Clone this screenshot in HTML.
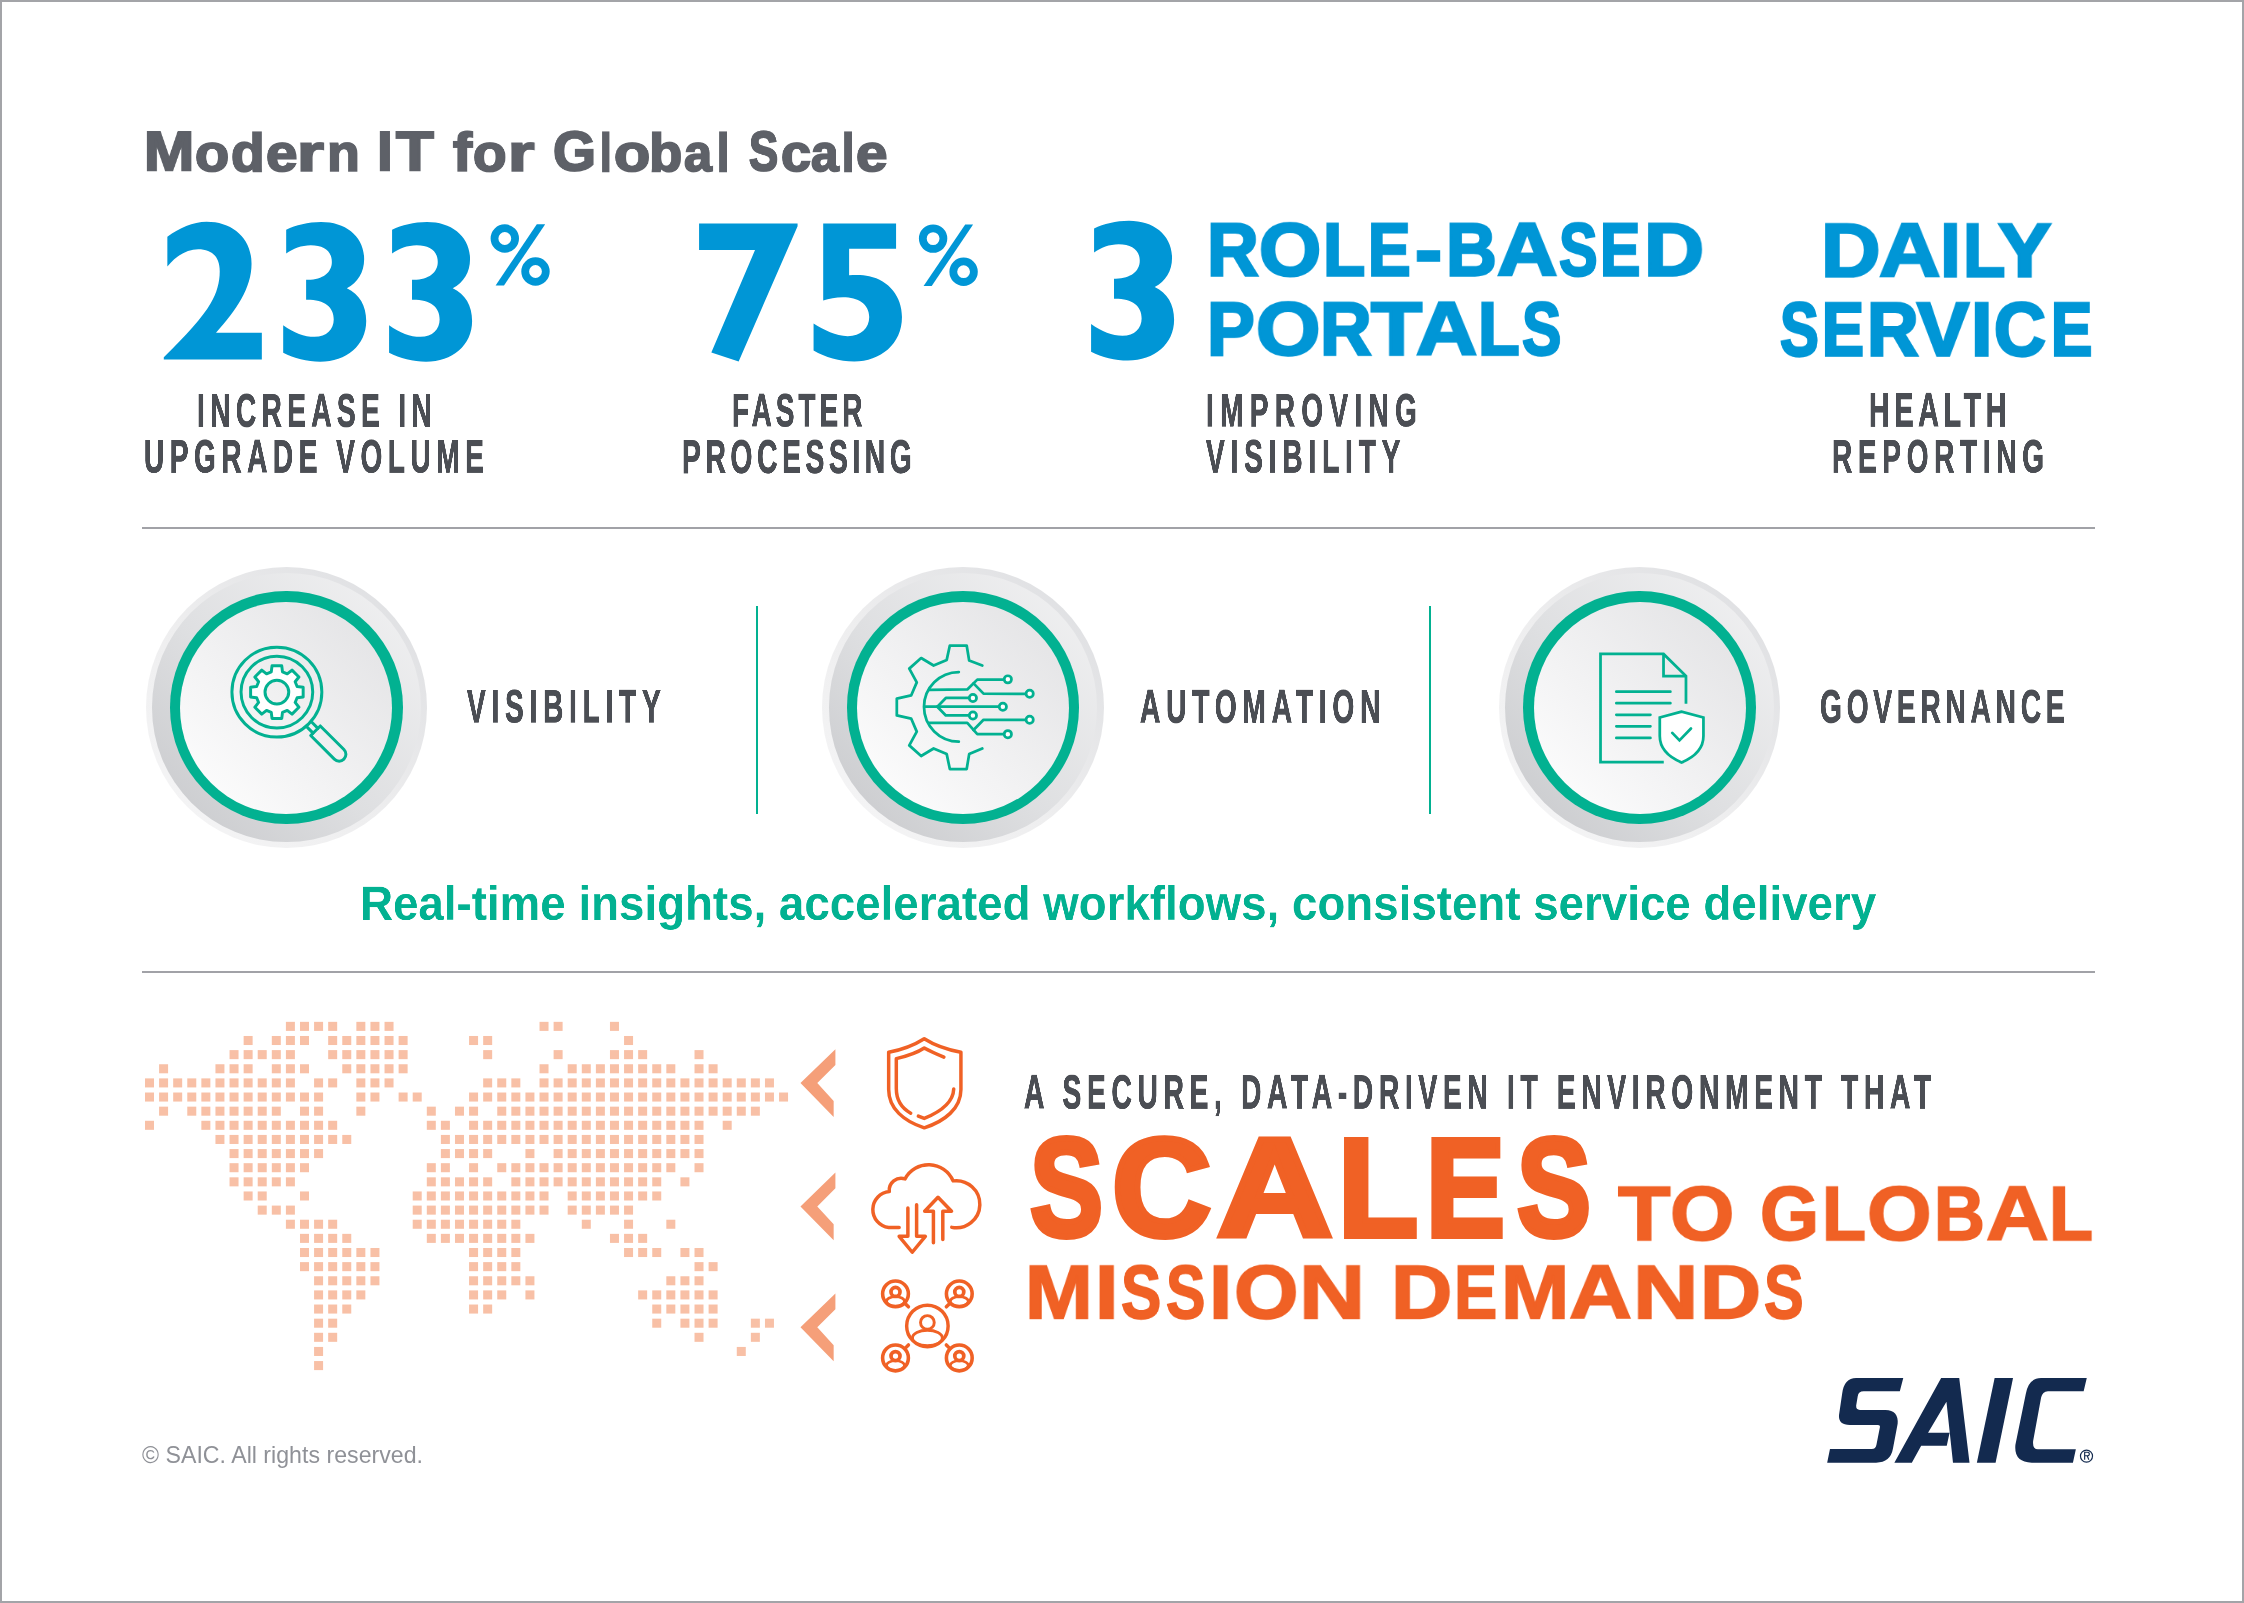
<!DOCTYPE html>
<html><head><meta charset="utf-8"><title>Modern IT for Global Scale</title>
<style>
*{margin:0;padding:0;box-sizing:border-box}
html,body{width:2244px;height:1603px;overflow:hidden;background:#fff}
body{position:relative;font-family:"Liberation Sans",sans-serif}
.frame{position:absolute;left:0;top:0;width:2244px;height:1603px;border:2px solid #a3a4a8;pointer-events:none}
.t{position:absolute;white-space:nowrap;font-size:100px;line-height:1;transform-origin:0 0;will-change:transform;font-family:"Liberation Sans",sans-serif}
.abs{position:absolute;overflow:visible}
.disc{position:absolute;border-radius:50%}
.rule{position:absolute;background:#a1a2a7}
.vdiv{position:absolute;background:#02b191}
</style></head>
<body>
<div class="rule" style="left:142px;top:527px;width:1953px;height:2px"></div>
<div class="rule" style="left:142px;top:971px;width:1953px;height:2px"></div>
<div class="vdiv" style="left:756px;top:606px;width:2px;height:208px"></div>
<div class="vdiv" style="left:1429px;top:606px;width:2px;height:208px"></div>
<div class="disc" style="left:145.65px;top:566.85px;width:281.50px;height:281.50px;background:linear-gradient(45deg,#f6f6f7 0%,#eeeeef 45%,#dcdde0 100%);"></div>
<div class="disc" style="left:152.20px;top:573.40px;width:268.40px;height:268.40px;background:linear-gradient(45deg,#c6c7ca 0%,#dedfe1 45%,#f3f3f4 100%);"></div>
<div class="disc" style="left:170.15px;top:591.35px;width:232.50px;height:232.50px;background:#02b191;"></div>
<div class="disc" style="left:180.40px;top:601.60px;width:212.00px;height:212.00px;background:linear-gradient(45deg,#ffffff 0%,#f3f3f4 40%,#e1e1e3 100%);"></div>
<div class="disc" style="left:822.25px;top:566.85px;width:281.50px;height:281.50px;background:linear-gradient(45deg,#f6f6f7 0%,#eeeeef 45%,#dcdde0 100%);"></div>
<div class="disc" style="left:828.80px;top:573.40px;width:268.40px;height:268.40px;background:linear-gradient(45deg,#c6c7ca 0%,#dedfe1 45%,#f3f3f4 100%);"></div>
<div class="disc" style="left:846.75px;top:591.35px;width:232.50px;height:232.50px;background:#02b191;"></div>
<div class="disc" style="left:857.00px;top:601.60px;width:212.00px;height:212.00px;background:linear-gradient(45deg,#ffffff 0%,#f3f3f4 40%,#e1e1e3 100%);"></div>
<div class="disc" style="left:1498.85px;top:566.85px;width:281.50px;height:281.50px;background:linear-gradient(45deg,#f6f6f7 0%,#eeeeef 45%,#dcdde0 100%);"></div>
<div class="disc" style="left:1505.40px;top:573.40px;width:268.40px;height:268.40px;background:linear-gradient(45deg,#c6c7ca 0%,#dedfe1 45%,#f3f3f4 100%);"></div>
<div class="disc" style="left:1523.35px;top:591.35px;width:232.50px;height:232.50px;background:#02b191;"></div>
<div class="disc" style="left:1533.60px;top:601.60px;width:212.00px;height:212.00px;background:linear-gradient(45deg,#ffffff 0%,#f3f3f4 40%,#e1e1e3 100%);"></div>
<svg class="abs" style="left:200px;top:620px" width="170" height="170" viewBox="0 0 1603 1603">
<g fill="none" stroke="#02b191" stroke-width="28" stroke-linejoin="round" stroke-linecap="round">
<circle cx="725" cy="680" r="424"/>
<circle cx="725" cy="680" r="338"/>
<path d="M672.1,489.2 L679.1,432.2 L770.9,432.2 L777.9,489.2 L822.5,507.7 L867.7,472.3 L932.7,537.3 L897.3,582.5 L915.8,627.1 L972.8,634.1 L972.8,725.9 L915.8,732.9 L897.3,777.5 L932.7,822.7 L867.7,887.7 L822.5,852.3 L777.9,870.8 L770.9,927.8 L679.1,927.8 L672.1,870.8 L627.5,852.3 L582.3,887.7 L517.3,822.7 L552.7,777.5 L534.2,732.9 L477.2,725.9 L477.2,634.1 L534.2,627.1 L552.7,582.5 L517.3,537.3 L582.3,472.3 L627.5,507.7 Z M837,680 A112,112 0 1 0 613,680 A112,112 0 1 0 837,680 Z" fill="#fff" fill-rule="evenodd"/>
<g transform="translate(725,680) rotate(45)">
<path d="M438,-32 L515,-32 M438,32 L515,32"/>
<path d="M515,-64 L830,-64 A64,64 0 0 1 830,64 L515,64 Z"/>
</g>
</g></svg>
<svg class="abs" style="left:860px;top:610px" width="200" height="200" viewBox="0 0 1603 1603">
<g fill="none" stroke="#02b191" stroke-width="22" stroke-linejoin="round" stroke-linecap="round">
<path d="M980,445 L875,405 L855,285 L720,285 L695,400 L590,445 L490,385 L395,470 L455,580 L410,685 L295,710 L295,845 L410,870 L455,975 L395,1085 L490,1170 L590,1110 L695,1155 L720,1275 L855,1275 L875,1155 L980,1110"/>
<path d="M792,497 A279,279 0 0 0 792,1055"/>
<path d="M555,640 L860,637 L940,558 L1156,558"/>
<path d="M910,588 L990,670 L1330,672"/>
<path d="M518,775 L1116,775"/>
<path d="M620,775 L688,705 L876,705"/>
<path d="M620,775 L688,845 L876,845"/>
<path d="M555,905 L860,905 L940,995 L1156,995"/>
<path d="M910,962 L990,880 L1330,880"/>
<circle cx="1185" cy="556" r="29" fill="#fff"/>
<circle cx="1360" cy="672" r="29" fill="#fff"/>
<circle cx="1145" cy="775" r="29" fill="#fff"/>
<circle cx="905" cy="705" r="29" fill="#fff"/>
<circle cx="905" cy="845" r="29" fill="#fff"/>
<circle cx="1185" cy="995" r="29" fill="#fff"/>
<circle cx="1360" cy="880" r="29" fill="#fff"/>
</g></svg>
<svg class="abs" style="left:1540px;top:610px" width="200" height="200" viewBox="0 0 1603 1603">
<g fill="none" stroke="#02b191" stroke-width="22" stroke-linejoin="miter" stroke-linecap="butt">
<path d="M1170,752 L1170,530 L990,352 L485,352 L485,1220 L992,1220"/>
<path d="M990,352 L990,530 L1170,530"/>
<g stroke-linecap="round">
<path d="M612,655 H1045 M612,747 H1045 M612,840 H885 M612,932 H885 M612,1025 H885"/>
</g>
<path d="M1135,815 L960,862 L960,1010 C960,1115 1035,1180 1135,1222 C1235,1180 1310,1115 1310,1010 L1310,862 Z" fill="#fff"/>
<path d="M1060,985 L1118,1045 L1210,950" stroke-linecap="round"/>
</g></svg>
<svg class="abs" style="left:0;top:0" width="2244" height="1603" viewBox="0 0 2244 1603"><g fill="#f8c0a6"><rect x="285.90" y="1021.84" width="9.0" height="9.05"/><rect x="299.99" y="1021.84" width="9.0" height="9.05"/><rect x="314.08" y="1021.84" width="9.0" height="9.05"/><rect x="328.17" y="1021.84" width="9.0" height="9.05"/><rect x="356.35" y="1021.84" width="9.0" height="9.05"/><rect x="370.44" y="1021.84" width="9.0" height="9.05"/><rect x="384.53" y="1021.84" width="9.0" height="9.05"/><rect x="539.52" y="1021.84" width="9.0" height="9.05"/><rect x="553.61" y="1021.84" width="9.0" height="9.05"/><rect x="609.97" y="1021.84" width="9.0" height="9.05"/><rect x="243.63" y="1035.98" width="9.0" height="9.05"/><rect x="271.81" y="1035.98" width="9.0" height="9.05"/><rect x="285.90" y="1035.98" width="9.0" height="9.05"/><rect x="299.99" y="1035.98" width="9.0" height="9.05"/><rect x="328.17" y="1035.98" width="9.0" height="9.05"/><rect x="342.26" y="1035.98" width="9.0" height="9.05"/><rect x="356.35" y="1035.98" width="9.0" height="9.05"/><rect x="370.44" y="1035.98" width="9.0" height="9.05"/><rect x="384.53" y="1035.98" width="9.0" height="9.05"/><rect x="398.62" y="1035.98" width="9.0" height="9.05"/><rect x="469.07" y="1035.98" width="9.0" height="9.05"/><rect x="483.16" y="1035.98" width="9.0" height="9.05"/><rect x="624.06" y="1035.98" width="9.0" height="9.05"/><rect x="229.54" y="1050.11" width="9.0" height="9.05"/><rect x="243.63" y="1050.11" width="9.0" height="9.05"/><rect x="257.72" y="1050.11" width="9.0" height="9.05"/><rect x="271.81" y="1050.11" width="9.0" height="9.05"/><rect x="285.90" y="1050.11" width="9.0" height="9.05"/><rect x="328.17" y="1050.11" width="9.0" height="9.05"/><rect x="342.26" y="1050.11" width="9.0" height="9.05"/><rect x="356.35" y="1050.11" width="9.0" height="9.05"/><rect x="370.44" y="1050.11" width="9.0" height="9.05"/><rect x="384.53" y="1050.11" width="9.0" height="9.05"/><rect x="398.62" y="1050.11" width="9.0" height="9.05"/><rect x="483.16" y="1050.11" width="9.0" height="9.05"/><rect x="553.61" y="1050.11" width="9.0" height="9.05"/><rect x="609.97" y="1050.11" width="9.0" height="9.05"/><rect x="624.06" y="1050.11" width="9.0" height="9.05"/><rect x="638.15" y="1050.11" width="9.0" height="9.05"/><rect x="694.51" y="1050.11" width="9.0" height="9.05"/><rect x="159.09" y="1064.25" width="9.0" height="9.05"/><rect x="215.45" y="1064.25" width="9.0" height="9.05"/><rect x="229.54" y="1064.25" width="9.0" height="9.05"/><rect x="243.63" y="1064.25" width="9.0" height="9.05"/><rect x="271.81" y="1064.25" width="9.0" height="9.05"/><rect x="285.90" y="1064.25" width="9.0" height="9.05"/><rect x="299.99" y="1064.25" width="9.0" height="9.05"/><rect x="342.26" y="1064.25" width="9.0" height="9.05"/><rect x="356.35" y="1064.25" width="9.0" height="9.05"/><rect x="370.44" y="1064.25" width="9.0" height="9.05"/><rect x="384.53" y="1064.25" width="9.0" height="9.05"/><rect x="398.62" y="1064.25" width="9.0" height="9.05"/><rect x="539.52" y="1064.25" width="9.0" height="9.05"/><rect x="567.70" y="1064.25" width="9.0" height="9.05"/><rect x="581.79" y="1064.25" width="9.0" height="9.05"/><rect x="595.88" y="1064.25" width="9.0" height="9.05"/><rect x="609.97" y="1064.25" width="9.0" height="9.05"/><rect x="624.06" y="1064.25" width="9.0" height="9.05"/><rect x="638.15" y="1064.25" width="9.0" height="9.05"/><rect x="652.24" y="1064.25" width="9.0" height="9.05"/><rect x="666.33" y="1064.25" width="9.0" height="9.05"/><rect x="694.51" y="1064.25" width="9.0" height="9.05"/><rect x="708.60" y="1064.25" width="9.0" height="9.05"/><rect x="145.00" y="1078.38" width="9.0" height="9.05"/><rect x="159.09" y="1078.38" width="9.0" height="9.05"/><rect x="173.18" y="1078.38" width="9.0" height="9.05"/><rect x="187.27" y="1078.38" width="9.0" height="9.05"/><rect x="201.36" y="1078.38" width="9.0" height="9.05"/><rect x="215.45" y="1078.38" width="9.0" height="9.05"/><rect x="229.54" y="1078.38" width="9.0" height="9.05"/><rect x="243.63" y="1078.38" width="9.0" height="9.05"/><rect x="257.72" y="1078.38" width="9.0" height="9.05"/><rect x="271.81" y="1078.38" width="9.0" height="9.05"/><rect x="285.90" y="1078.38" width="9.0" height="9.05"/><rect x="314.08" y="1078.38" width="9.0" height="9.05"/><rect x="328.17" y="1078.38" width="9.0" height="9.05"/><rect x="356.35" y="1078.38" width="9.0" height="9.05"/><rect x="370.44" y="1078.38" width="9.0" height="9.05"/><rect x="384.53" y="1078.38" width="9.0" height="9.05"/><rect x="483.16" y="1078.38" width="9.0" height="9.05"/><rect x="497.25" y="1078.38" width="9.0" height="9.05"/><rect x="511.34" y="1078.38" width="9.0" height="9.05"/><rect x="539.52" y="1078.38" width="9.0" height="9.05"/><rect x="553.61" y="1078.38" width="9.0" height="9.05"/><rect x="567.70" y="1078.38" width="9.0" height="9.05"/><rect x="581.79" y="1078.38" width="9.0" height="9.05"/><rect x="595.88" y="1078.38" width="9.0" height="9.05"/><rect x="609.97" y="1078.38" width="9.0" height="9.05"/><rect x="624.06" y="1078.38" width="9.0" height="9.05"/><rect x="638.15" y="1078.38" width="9.0" height="9.05"/><rect x="652.24" y="1078.38" width="9.0" height="9.05"/><rect x="666.33" y="1078.38" width="9.0" height="9.05"/><rect x="680.42" y="1078.38" width="9.0" height="9.05"/><rect x="694.51" y="1078.38" width="9.0" height="9.05"/><rect x="708.60" y="1078.38" width="9.0" height="9.05"/><rect x="722.69" y="1078.38" width="9.0" height="9.05"/><rect x="736.78" y="1078.38" width="9.0" height="9.05"/><rect x="750.87" y="1078.38" width="9.0" height="9.05"/><rect x="764.96" y="1078.38" width="9.0" height="9.05"/><rect x="145.00" y="1092.51" width="9.0" height="9.05"/><rect x="159.09" y="1092.51" width="9.0" height="9.05"/><rect x="173.18" y="1092.51" width="9.0" height="9.05"/><rect x="187.27" y="1092.51" width="9.0" height="9.05"/><rect x="201.36" y="1092.51" width="9.0" height="9.05"/><rect x="215.45" y="1092.51" width="9.0" height="9.05"/><rect x="229.54" y="1092.51" width="9.0" height="9.05"/><rect x="243.63" y="1092.51" width="9.0" height="9.05"/><rect x="257.72" y="1092.51" width="9.0" height="9.05"/><rect x="271.81" y="1092.51" width="9.0" height="9.05"/><rect x="285.90" y="1092.51" width="9.0" height="9.05"/><rect x="299.99" y="1092.51" width="9.0" height="9.05"/><rect x="314.08" y="1092.51" width="9.0" height="9.05"/><rect x="356.35" y="1092.51" width="9.0" height="9.05"/><rect x="370.44" y="1092.51" width="9.0" height="9.05"/><rect x="398.62" y="1092.51" width="9.0" height="9.05"/><rect x="412.71" y="1092.51" width="9.0" height="9.05"/><rect x="469.07" y="1092.51" width="9.0" height="9.05"/><rect x="483.16" y="1092.51" width="9.0" height="9.05"/><rect x="497.25" y="1092.51" width="9.0" height="9.05"/><rect x="511.34" y="1092.51" width="9.0" height="9.05"/><rect x="525.43" y="1092.51" width="9.0" height="9.05"/><rect x="539.52" y="1092.51" width="9.0" height="9.05"/><rect x="553.61" y="1092.51" width="9.0" height="9.05"/><rect x="567.70" y="1092.51" width="9.0" height="9.05"/><rect x="581.79" y="1092.51" width="9.0" height="9.05"/><rect x="595.88" y="1092.51" width="9.0" height="9.05"/><rect x="609.97" y="1092.51" width="9.0" height="9.05"/><rect x="624.06" y="1092.51" width="9.0" height="9.05"/><rect x="638.15" y="1092.51" width="9.0" height="9.05"/><rect x="652.24" y="1092.51" width="9.0" height="9.05"/><rect x="666.33" y="1092.51" width="9.0" height="9.05"/><rect x="680.42" y="1092.51" width="9.0" height="9.05"/><rect x="694.51" y="1092.51" width="9.0" height="9.05"/><rect x="708.60" y="1092.51" width="9.0" height="9.05"/><rect x="722.69" y="1092.51" width="9.0" height="9.05"/><rect x="736.78" y="1092.51" width="9.0" height="9.05"/><rect x="750.87" y="1092.51" width="9.0" height="9.05"/><rect x="764.96" y="1092.51" width="9.0" height="9.05"/><rect x="779.05" y="1092.51" width="9.0" height="9.05"/><rect x="159.09" y="1106.65" width="9.0" height="9.05"/><rect x="187.27" y="1106.65" width="9.0" height="9.05"/><rect x="201.36" y="1106.65" width="9.0" height="9.05"/><rect x="215.45" y="1106.65" width="9.0" height="9.05"/><rect x="229.54" y="1106.65" width="9.0" height="9.05"/><rect x="243.63" y="1106.65" width="9.0" height="9.05"/><rect x="257.72" y="1106.65" width="9.0" height="9.05"/><rect x="271.81" y="1106.65" width="9.0" height="9.05"/><rect x="299.99" y="1106.65" width="9.0" height="9.05"/><rect x="314.08" y="1106.65" width="9.0" height="9.05"/><rect x="356.35" y="1106.65" width="9.0" height="9.05"/><rect x="426.80" y="1106.65" width="9.0" height="9.05"/><rect x="454.98" y="1106.65" width="9.0" height="9.05"/><rect x="469.07" y="1106.65" width="9.0" height="9.05"/><rect x="497.25" y="1106.65" width="9.0" height="9.05"/><rect x="511.34" y="1106.65" width="9.0" height="9.05"/><rect x="525.43" y="1106.65" width="9.0" height="9.05"/><rect x="539.52" y="1106.65" width="9.0" height="9.05"/><rect x="553.61" y="1106.65" width="9.0" height="9.05"/><rect x="567.70" y="1106.65" width="9.0" height="9.05"/><rect x="581.79" y="1106.65" width="9.0" height="9.05"/><rect x="595.88" y="1106.65" width="9.0" height="9.05"/><rect x="609.97" y="1106.65" width="9.0" height="9.05"/><rect x="624.06" y="1106.65" width="9.0" height="9.05"/><rect x="638.15" y="1106.65" width="9.0" height="9.05"/><rect x="652.24" y="1106.65" width="9.0" height="9.05"/><rect x="666.33" y="1106.65" width="9.0" height="9.05"/><rect x="680.42" y="1106.65" width="9.0" height="9.05"/><rect x="694.51" y="1106.65" width="9.0" height="9.05"/><rect x="708.60" y="1106.65" width="9.0" height="9.05"/><rect x="722.69" y="1106.65" width="9.0" height="9.05"/><rect x="736.78" y="1106.65" width="9.0" height="9.05"/><rect x="750.87" y="1106.65" width="9.0" height="9.05"/><rect x="145.00" y="1120.78" width="9.0" height="9.05"/><rect x="201.36" y="1120.78" width="9.0" height="9.05"/><rect x="215.45" y="1120.78" width="9.0" height="9.05"/><rect x="229.54" y="1120.78" width="9.0" height="9.05"/><rect x="243.63" y="1120.78" width="9.0" height="9.05"/><rect x="257.72" y="1120.78" width="9.0" height="9.05"/><rect x="271.81" y="1120.78" width="9.0" height="9.05"/><rect x="285.90" y="1120.78" width="9.0" height="9.05"/><rect x="299.99" y="1120.78" width="9.0" height="9.05"/><rect x="314.08" y="1120.78" width="9.0" height="9.05"/><rect x="328.17" y="1120.78" width="9.0" height="9.05"/><rect x="426.80" y="1120.78" width="9.0" height="9.05"/><rect x="440.89" y="1120.78" width="9.0" height="9.05"/><rect x="469.07" y="1120.78" width="9.0" height="9.05"/><rect x="483.16" y="1120.78" width="9.0" height="9.05"/><rect x="497.25" y="1120.78" width="9.0" height="9.05"/><rect x="511.34" y="1120.78" width="9.0" height="9.05"/><rect x="525.43" y="1120.78" width="9.0" height="9.05"/><rect x="539.52" y="1120.78" width="9.0" height="9.05"/><rect x="553.61" y="1120.78" width="9.0" height="9.05"/><rect x="567.70" y="1120.78" width="9.0" height="9.05"/><rect x="581.79" y="1120.78" width="9.0" height="9.05"/><rect x="595.88" y="1120.78" width="9.0" height="9.05"/><rect x="609.97" y="1120.78" width="9.0" height="9.05"/><rect x="624.06" y="1120.78" width="9.0" height="9.05"/><rect x="638.15" y="1120.78" width="9.0" height="9.05"/><rect x="652.24" y="1120.78" width="9.0" height="9.05"/><rect x="666.33" y="1120.78" width="9.0" height="9.05"/><rect x="680.42" y="1120.78" width="9.0" height="9.05"/><rect x="694.51" y="1120.78" width="9.0" height="9.05"/><rect x="722.69" y="1120.78" width="9.0" height="9.05"/><rect x="215.45" y="1134.92" width="9.0" height="9.05"/><rect x="229.54" y="1134.92" width="9.0" height="9.05"/><rect x="243.63" y="1134.92" width="9.0" height="9.05"/><rect x="257.72" y="1134.92" width="9.0" height="9.05"/><rect x="271.81" y="1134.92" width="9.0" height="9.05"/><rect x="285.90" y="1134.92" width="9.0" height="9.05"/><rect x="299.99" y="1134.92" width="9.0" height="9.05"/><rect x="314.08" y="1134.92" width="9.0" height="9.05"/><rect x="328.17" y="1134.92" width="9.0" height="9.05"/><rect x="342.26" y="1134.92" width="9.0" height="9.05"/><rect x="440.89" y="1134.92" width="9.0" height="9.05"/><rect x="454.98" y="1134.92" width="9.0" height="9.05"/><rect x="469.07" y="1134.92" width="9.0" height="9.05"/><rect x="483.16" y="1134.92" width="9.0" height="9.05"/><rect x="497.25" y="1134.92" width="9.0" height="9.05"/><rect x="511.34" y="1134.92" width="9.0" height="9.05"/><rect x="525.43" y="1134.92" width="9.0" height="9.05"/><rect x="539.52" y="1134.92" width="9.0" height="9.05"/><rect x="553.61" y="1134.92" width="9.0" height="9.05"/><rect x="567.70" y="1134.92" width="9.0" height="9.05"/><rect x="581.79" y="1134.92" width="9.0" height="9.05"/><rect x="595.88" y="1134.92" width="9.0" height="9.05"/><rect x="609.97" y="1134.92" width="9.0" height="9.05"/><rect x="624.06" y="1134.92" width="9.0" height="9.05"/><rect x="638.15" y="1134.92" width="9.0" height="9.05"/><rect x="652.24" y="1134.92" width="9.0" height="9.05"/><rect x="666.33" y="1134.92" width="9.0" height="9.05"/><rect x="680.42" y="1134.92" width="9.0" height="9.05"/><rect x="694.51" y="1134.92" width="9.0" height="9.05"/><rect x="229.54" y="1149.05" width="9.0" height="9.05"/><rect x="243.63" y="1149.05" width="9.0" height="9.05"/><rect x="257.72" y="1149.05" width="9.0" height="9.05"/><rect x="271.81" y="1149.05" width="9.0" height="9.05"/><rect x="285.90" y="1149.05" width="9.0" height="9.05"/><rect x="299.99" y="1149.05" width="9.0" height="9.05"/><rect x="314.08" y="1149.05" width="9.0" height="9.05"/><rect x="440.89" y="1149.05" width="9.0" height="9.05"/><rect x="454.98" y="1149.05" width="9.0" height="9.05"/><rect x="469.07" y="1149.05" width="9.0" height="9.05"/><rect x="483.16" y="1149.05" width="9.0" height="9.05"/><rect x="525.43" y="1149.05" width="9.0" height="9.05"/><rect x="553.61" y="1149.05" width="9.0" height="9.05"/><rect x="567.70" y="1149.05" width="9.0" height="9.05"/><rect x="581.79" y="1149.05" width="9.0" height="9.05"/><rect x="595.88" y="1149.05" width="9.0" height="9.05"/><rect x="609.97" y="1149.05" width="9.0" height="9.05"/><rect x="624.06" y="1149.05" width="9.0" height="9.05"/><rect x="638.15" y="1149.05" width="9.0" height="9.05"/><rect x="652.24" y="1149.05" width="9.0" height="9.05"/><rect x="666.33" y="1149.05" width="9.0" height="9.05"/><rect x="680.42" y="1149.05" width="9.0" height="9.05"/><rect x="694.51" y="1149.05" width="9.0" height="9.05"/><rect x="229.54" y="1163.18" width="9.0" height="9.05"/><rect x="243.63" y="1163.18" width="9.0" height="9.05"/><rect x="257.72" y="1163.18" width="9.0" height="9.05"/><rect x="271.81" y="1163.18" width="9.0" height="9.05"/><rect x="285.90" y="1163.18" width="9.0" height="9.05"/><rect x="299.99" y="1163.18" width="9.0" height="9.05"/><rect x="426.80" y="1163.18" width="9.0" height="9.05"/><rect x="440.89" y="1163.18" width="9.0" height="9.05"/><rect x="469.07" y="1163.18" width="9.0" height="9.05"/><rect x="497.25" y="1163.18" width="9.0" height="9.05"/><rect x="511.34" y="1163.18" width="9.0" height="9.05"/><rect x="525.43" y="1163.18" width="9.0" height="9.05"/><rect x="539.52" y="1163.18" width="9.0" height="9.05"/><rect x="553.61" y="1163.18" width="9.0" height="9.05"/><rect x="567.70" y="1163.18" width="9.0" height="9.05"/><rect x="581.79" y="1163.18" width="9.0" height="9.05"/><rect x="595.88" y="1163.18" width="9.0" height="9.05"/><rect x="609.97" y="1163.18" width="9.0" height="9.05"/><rect x="624.06" y="1163.18" width="9.0" height="9.05"/><rect x="638.15" y="1163.18" width="9.0" height="9.05"/><rect x="652.24" y="1163.18" width="9.0" height="9.05"/><rect x="666.33" y="1163.18" width="9.0" height="9.05"/><rect x="694.51" y="1163.18" width="9.0" height="9.05"/><rect x="229.54" y="1177.32" width="9.0" height="9.05"/><rect x="243.63" y="1177.32" width="9.0" height="9.05"/><rect x="257.72" y="1177.32" width="9.0" height="9.05"/><rect x="271.81" y="1177.32" width="9.0" height="9.05"/><rect x="285.90" y="1177.32" width="9.0" height="9.05"/><rect x="426.80" y="1177.32" width="9.0" height="9.05"/><rect x="440.89" y="1177.32" width="9.0" height="9.05"/><rect x="454.98" y="1177.32" width="9.0" height="9.05"/><rect x="469.07" y="1177.32" width="9.0" height="9.05"/><rect x="483.16" y="1177.32" width="9.0" height="9.05"/><rect x="511.34" y="1177.32" width="9.0" height="9.05"/><rect x="525.43" y="1177.32" width="9.0" height="9.05"/><rect x="539.52" y="1177.32" width="9.0" height="9.05"/><rect x="553.61" y="1177.32" width="9.0" height="9.05"/><rect x="567.70" y="1177.32" width="9.0" height="9.05"/><rect x="581.79" y="1177.32" width="9.0" height="9.05"/><rect x="595.88" y="1177.32" width="9.0" height="9.05"/><rect x="609.97" y="1177.32" width="9.0" height="9.05"/><rect x="624.06" y="1177.32" width="9.0" height="9.05"/><rect x="638.15" y="1177.32" width="9.0" height="9.05"/><rect x="652.24" y="1177.32" width="9.0" height="9.05"/><rect x="680.42" y="1177.32" width="9.0" height="9.05"/><rect x="243.63" y="1191.45" width="9.0" height="9.05"/><rect x="257.72" y="1191.45" width="9.0" height="9.05"/><rect x="299.99" y="1191.45" width="9.0" height="9.05"/><rect x="412.71" y="1191.45" width="9.0" height="9.05"/><rect x="426.80" y="1191.45" width="9.0" height="9.05"/><rect x="440.89" y="1191.45" width="9.0" height="9.05"/><rect x="454.98" y="1191.45" width="9.0" height="9.05"/><rect x="469.07" y="1191.45" width="9.0" height="9.05"/><rect x="483.16" y="1191.45" width="9.0" height="9.05"/><rect x="497.25" y="1191.45" width="9.0" height="9.05"/><rect x="511.34" y="1191.45" width="9.0" height="9.05"/><rect x="525.43" y="1191.45" width="9.0" height="9.05"/><rect x="539.52" y="1191.45" width="9.0" height="9.05"/><rect x="567.70" y="1191.45" width="9.0" height="9.05"/><rect x="581.79" y="1191.45" width="9.0" height="9.05"/><rect x="595.88" y="1191.45" width="9.0" height="9.05"/><rect x="609.97" y="1191.45" width="9.0" height="9.05"/><rect x="624.06" y="1191.45" width="9.0" height="9.05"/><rect x="638.15" y="1191.45" width="9.0" height="9.05"/><rect x="652.24" y="1191.45" width="9.0" height="9.05"/><rect x="257.72" y="1205.59" width="9.0" height="9.05"/><rect x="271.81" y="1205.59" width="9.0" height="9.05"/><rect x="285.90" y="1205.59" width="9.0" height="9.05"/><rect x="412.71" y="1205.59" width="9.0" height="9.05"/><rect x="426.80" y="1205.59" width="9.0" height="9.05"/><rect x="440.89" y="1205.59" width="9.0" height="9.05"/><rect x="454.98" y="1205.59" width="9.0" height="9.05"/><rect x="469.07" y="1205.59" width="9.0" height="9.05"/><rect x="483.16" y="1205.59" width="9.0" height="9.05"/><rect x="497.25" y="1205.59" width="9.0" height="9.05"/><rect x="511.34" y="1205.59" width="9.0" height="9.05"/><rect x="525.43" y="1205.59" width="9.0" height="9.05"/><rect x="539.52" y="1205.59" width="9.0" height="9.05"/><rect x="567.70" y="1205.59" width="9.0" height="9.05"/><rect x="581.79" y="1205.59" width="9.0" height="9.05"/><rect x="595.88" y="1205.59" width="9.0" height="9.05"/><rect x="609.97" y="1205.59" width="9.0" height="9.05"/><rect x="624.06" y="1205.59" width="9.0" height="9.05"/><rect x="285.90" y="1219.72" width="9.0" height="9.05"/><rect x="299.99" y="1219.72" width="9.0" height="9.05"/><rect x="314.08" y="1219.72" width="9.0" height="9.05"/><rect x="328.17" y="1219.72" width="9.0" height="9.05"/><rect x="412.71" y="1219.72" width="9.0" height="9.05"/><rect x="426.80" y="1219.72" width="9.0" height="9.05"/><rect x="440.89" y="1219.72" width="9.0" height="9.05"/><rect x="454.98" y="1219.72" width="9.0" height="9.05"/><rect x="469.07" y="1219.72" width="9.0" height="9.05"/><rect x="483.16" y="1219.72" width="9.0" height="9.05"/><rect x="497.25" y="1219.72" width="9.0" height="9.05"/><rect x="511.34" y="1219.72" width="9.0" height="9.05"/><rect x="581.79" y="1219.72" width="9.0" height="9.05"/><rect x="624.06" y="1219.72" width="9.0" height="9.05"/><rect x="666.33" y="1219.72" width="9.0" height="9.05"/><rect x="299.99" y="1233.85" width="9.0" height="9.05"/><rect x="314.08" y="1233.85" width="9.0" height="9.05"/><rect x="328.17" y="1233.85" width="9.0" height="9.05"/><rect x="342.26" y="1233.85" width="9.0" height="9.05"/><rect x="426.80" y="1233.85" width="9.0" height="9.05"/><rect x="440.89" y="1233.85" width="9.0" height="9.05"/><rect x="454.98" y="1233.85" width="9.0" height="9.05"/><rect x="469.07" y="1233.85" width="9.0" height="9.05"/><rect x="483.16" y="1233.85" width="9.0" height="9.05"/><rect x="497.25" y="1233.85" width="9.0" height="9.05"/><rect x="511.34" y="1233.85" width="9.0" height="9.05"/><rect x="525.43" y="1233.85" width="9.0" height="9.05"/><rect x="609.97" y="1233.85" width="9.0" height="9.05"/><rect x="624.06" y="1233.85" width="9.0" height="9.05"/><rect x="638.15" y="1233.85" width="9.0" height="9.05"/><rect x="299.99" y="1247.99" width="9.0" height="9.05"/><rect x="314.08" y="1247.99" width="9.0" height="9.05"/><rect x="328.17" y="1247.99" width="9.0" height="9.05"/><rect x="342.26" y="1247.99" width="9.0" height="9.05"/><rect x="356.35" y="1247.99" width="9.0" height="9.05"/><rect x="370.44" y="1247.99" width="9.0" height="9.05"/><rect x="469.07" y="1247.99" width="9.0" height="9.05"/><rect x="483.16" y="1247.99" width="9.0" height="9.05"/><rect x="497.25" y="1247.99" width="9.0" height="9.05"/><rect x="511.34" y="1247.99" width="9.0" height="9.05"/><rect x="624.06" y="1247.99" width="9.0" height="9.05"/><rect x="638.15" y="1247.99" width="9.0" height="9.05"/><rect x="652.24" y="1247.99" width="9.0" height="9.05"/><rect x="680.42" y="1247.99" width="9.0" height="9.05"/><rect x="694.51" y="1247.99" width="9.0" height="9.05"/><rect x="299.99" y="1262.12" width="9.0" height="9.05"/><rect x="314.08" y="1262.12" width="9.0" height="9.05"/><rect x="328.17" y="1262.12" width="9.0" height="9.05"/><rect x="342.26" y="1262.12" width="9.0" height="9.05"/><rect x="356.35" y="1262.12" width="9.0" height="9.05"/><rect x="370.44" y="1262.12" width="9.0" height="9.05"/><rect x="469.07" y="1262.12" width="9.0" height="9.05"/><rect x="483.16" y="1262.12" width="9.0" height="9.05"/><rect x="497.25" y="1262.12" width="9.0" height="9.05"/><rect x="511.34" y="1262.12" width="9.0" height="9.05"/><rect x="694.51" y="1262.12" width="9.0" height="9.05"/><rect x="708.60" y="1262.12" width="9.0" height="9.05"/><rect x="314.08" y="1276.26" width="9.0" height="9.05"/><rect x="328.17" y="1276.26" width="9.0" height="9.05"/><rect x="342.26" y="1276.26" width="9.0" height="9.05"/><rect x="356.35" y="1276.26" width="9.0" height="9.05"/><rect x="370.44" y="1276.26" width="9.0" height="9.05"/><rect x="469.07" y="1276.26" width="9.0" height="9.05"/><rect x="483.16" y="1276.26" width="9.0" height="9.05"/><rect x="497.25" y="1276.26" width="9.0" height="9.05"/><rect x="511.34" y="1276.26" width="9.0" height="9.05"/><rect x="525.43" y="1276.26" width="9.0" height="9.05"/><rect x="666.33" y="1276.26" width="9.0" height="9.05"/><rect x="680.42" y="1276.26" width="9.0" height="9.05"/><rect x="694.51" y="1276.26" width="9.0" height="9.05"/><rect x="314.08" y="1290.39" width="9.0" height="9.05"/><rect x="328.17" y="1290.39" width="9.0" height="9.05"/><rect x="342.26" y="1290.39" width="9.0" height="9.05"/><rect x="356.35" y="1290.39" width="9.0" height="9.05"/><rect x="469.07" y="1290.39" width="9.0" height="9.05"/><rect x="483.16" y="1290.39" width="9.0" height="9.05"/><rect x="497.25" y="1290.39" width="9.0" height="9.05"/><rect x="525.43" y="1290.39" width="9.0" height="9.05"/><rect x="638.15" y="1290.39" width="9.0" height="9.05"/><rect x="652.24" y="1290.39" width="9.0" height="9.05"/><rect x="666.33" y="1290.39" width="9.0" height="9.05"/><rect x="680.42" y="1290.39" width="9.0" height="9.05"/><rect x="694.51" y="1290.39" width="9.0" height="9.05"/><rect x="708.60" y="1290.39" width="9.0" height="9.05"/><rect x="314.08" y="1304.52" width="9.0" height="9.05"/><rect x="328.17" y="1304.52" width="9.0" height="9.05"/><rect x="342.26" y="1304.52" width="9.0" height="9.05"/><rect x="469.07" y="1304.52" width="9.0" height="9.05"/><rect x="483.16" y="1304.52" width="9.0" height="9.05"/><rect x="652.24" y="1304.52" width="9.0" height="9.05"/><rect x="666.33" y="1304.52" width="9.0" height="9.05"/><rect x="680.42" y="1304.52" width="9.0" height="9.05"/><rect x="694.51" y="1304.52" width="9.0" height="9.05"/><rect x="708.60" y="1304.52" width="9.0" height="9.05"/><rect x="314.08" y="1318.66" width="9.0" height="9.05"/><rect x="328.17" y="1318.66" width="9.0" height="9.05"/><rect x="652.24" y="1318.66" width="9.0" height="9.05"/><rect x="680.42" y="1318.66" width="9.0" height="9.05"/><rect x="694.51" y="1318.66" width="9.0" height="9.05"/><rect x="708.60" y="1318.66" width="9.0" height="9.05"/><rect x="750.87" y="1318.66" width="9.0" height="9.05"/><rect x="764.96" y="1318.66" width="9.0" height="9.05"/><rect x="314.08" y="1332.79" width="9.0" height="9.05"/><rect x="328.17" y="1332.79" width="9.0" height="9.05"/><rect x="694.51" y="1332.79" width="9.0" height="9.05"/><rect x="750.87" y="1332.79" width="9.0" height="9.05"/><rect x="314.08" y="1346.93" width="9.0" height="9.05"/><rect x="736.78" y="1346.93" width="9.0" height="9.05"/><rect x="314.08" y="1361.06" width="9.0" height="9.05"/></g></svg>
<svg class="abs" style="left:790px;top:1030px" width="210" height="350" viewBox="0 0 962 1603">
<g fill="#f59f79">
<polygon points="208,88 48,243 200,398 200,325 125,243 208,160"/>
<polygon points="208,653 48,808 200,963 200,890 125,808 208,725"/>
<polygon points="208,1207 48,1362 200,1517 200,1444 125,1362 208,1279"/>
</g>
<g fill="none" stroke="#f06125" stroke-width="16" stroke-linejoin="round" stroke-linecap="round">
<path d="M615,40 C560,75 505,92 452,102 L452,272 C452,360 522,418 615,448 C708,418 783,360 783,272 L783,102 C730,92 670,75 615,40 Z"/>
<path d="M705,124 C672,110 642,97 615,82 C582,104 532,120 487,131 L487,268 C487,322 515,360 553,381"/>
<path d="M588,394 L615,405 C695,372 748,330 750,270"/>
<path d="M500,905 L452,905 A83,83 0 0 1 455,740 A55,55 0 0 1 527,682 A122,122 0 0 1 747,691 A108,108 0 1 1 741,904"/>
<path d="M540,815 L540,945 L500,945 L560,1018 L620,945 L580,945 L580,800"/>
<path d="M657,975 L657,830 L617,830 L678,766 L740,830 L700,830 L700,960"/>
<circle cx="629.4" cy="1355.5" r="95" stroke-width="15.8"/>
<circle cx="629.4" cy="1339.5" r="31.4" stroke-width="13.4"/>
<clipPath id="cpc"><circle cx="629.4" cy="1355.5" r="95"/></clipPath>
<ellipse cx="629.4" cy="1410.5" rx="68.5" ry="35.6" stroke-width="13.4" clip-path="url(#cpc)"/>
<circle cx="483.3" cy="1208.4" r="59" stroke-width="16.4"/>
<circle cx="483.3" cy="1199.9" r="20.6" stroke-width="17"/>
<clipPath id="cp0"><circle cx="483.3" cy="1208.4" r="59"/></clipPath>
<ellipse cx="483.3" cy="1242.8000000000002" rx="41" ry="22" stroke-width="12.4" clip-path="url(#cp0)"/>
<path d="M527.0,1252.4 L542.5,1268.0"/>
<circle cx="775.5" cy="1208.4" r="59" stroke-width="16.4"/>
<circle cx="775.5" cy="1199.9" r="20.6" stroke-width="17"/>
<clipPath id="cp1"><circle cx="775.5" cy="1208.4" r="59"/></clipPath>
<ellipse cx="775.5" cy="1242.8000000000002" rx="41" ry="22" stroke-width="12.4" clip-path="url(#cp1)"/>
<path d="M731.8,1252.4 L716.3,1268.0"/>
<circle cx="483.3" cy="1502.2" r="59" stroke-width="16.4"/>
<circle cx="483.3" cy="1493.7" r="20.6" stroke-width="17"/>
<clipPath id="cp2"><circle cx="483.3" cy="1502.2" r="59"/></clipPath>
<ellipse cx="483.3" cy="1536.6000000000001" rx="41" ry="22" stroke-width="12.4" clip-path="url(#cp2)"/>
<path d="M527.1,1458.3 L542.6,1442.7"/>
<circle cx="775.5" cy="1502.2" r="59" stroke-width="16.4"/>
<circle cx="775.5" cy="1493.7" r="20.6" stroke-width="17"/>
<clipPath id="cp3"><circle cx="775.5" cy="1502.2" r="59"/></clipPath>
<ellipse cx="775.5" cy="1536.6000000000001" rx="41" ry="22" stroke-width="12.4" clip-path="url(#cp3)"/>
<path d="M731.7,1458.3 L716.2,1442.7"/>
</g></svg>
<svg class="abs" style="left:1820px;top:1370px" width="90" height="100" viewBox="0 0 1443 1603"><path fill="#132a4f" d="M580,128 L1335,128 L1280,340 L700,340 Q615,340 605,420 L580,570 Q575,640 640,640 L1050,640 Q1260,645 1245,860 L1170,1260 Q1130,1485 900,1485 L115,1485 L160,1268 L830,1268 Q895,1268 905,1200 L962,910 Q965,880 930,880 L480,880 Q290,880 305,720 L355,380 Q385,128 580,128 Z"/></svg>
<svg class="abs" style="left:1890px;top:1370px" width="90" height="100" viewBox="0 0 1443 1603"><path fill="#132a4f" d="M820,128 L1110,128 L1275,1485 L1010,1485 L905,510 L610,1005 L955,1005 L910,1215 L500,1215 L350,1485 L70,1485 Z"/></svg>
<svg class="abs" style="left:1970px;top:1370px" width="130" height="100" viewBox="0 0 2084 1603"><path fill="#132a4f" d="M395,128 L690,128 L410,1485 L110,1485 Z"/><path fill="#132a4f" d="M1140,128 L1872,128 L1822,340 L1250,340 Q1160,345 1140,440 L1012,1140 Q1000,1270 1090,1270 L1697,1270 L1650,1485 L990,1485 Q700,1480 728,1200 L895,380 Q940,128 1140,128 Z"/>
<circle cx="1867.5" cy="1380" r="97" fill="none" stroke="#132a4f" stroke-width="19"/>
<path d="M1838,1440 L1838,1318 L1880,1318 Q1913,1318 1913,1346 Q1913,1374 1880,1374 L1838,1374 M1878,1374 L1906,1440" fill="none" stroke="#132a4f" stroke-width="18"/></svg>
<svg class="abs" style="left:0;top:0" width="2244" height="600" viewBox="0 0 2244 600"><g fill="#0096d6">
<path transform="translate(158,215) scale(0.093545)" d="M100,232 C230,140 370,72 520,72 C800,72 1000,250 1000,520 C1000,780 840,1010 620,1258 L1110,1258 L1110,1545 L62,1545 L62,1520 C300,1290 480,1090 560,950 C630,830 660,720 660,600 C660,440 570,365 430,365 C310,365 200,430 100,550 Z"/>
<path transform="translate(277.1,216.1) scale(0.093598)" d="M97,145 C200,95 330,62 470,62 C740,62 930,220 930,460 C930,600 860,710 745,770 C880,830 952,960 952,1120 C952,1380 740,1555 460,1555 C320,1555 180,1520 65,1460 L65,1165 C180,1245 290,1290 400,1290 C530,1290 605,1210 605,1105 C605,975 510,895 320,895 L310,895 L310,680 L330,680 C490,680 585,600 585,490 C585,375 500,312 360,312 C260,312 170,350 97,400 Z"/>
<path transform="translate(383.0,216.1) scale(0.093598)" d="M97,145 C200,95 330,62 470,62 C740,62 930,220 930,460 C930,600 860,710 745,770 C880,830 952,960 952,1120 C952,1380 740,1555 460,1555 C320,1555 180,1520 65,1460 L65,1165 C180,1245 290,1290 400,1290 C530,1290 605,1210 605,1105 C605,975 510,895 320,895 L310,895 L310,680 L330,680 C490,680 585,600 585,490 C585,375 500,312 360,312 C260,312 170,350 97,400 Z"/>
<path transform="translate(1085,215) scale(0.093598)" d="M97,145 C200,95 330,62 470,62 C740,62 930,220 930,460 C930,600 860,710 745,770 C880,830 952,960 952,1120 C952,1380 740,1555 460,1555 C320,1555 180,1520 65,1460 L65,1165 C180,1245 290,1290 400,1290 C530,1290 605,1210 605,1105 C605,975 510,895 320,895 L310,895 L310,680 L330,680 C490,680 585,600 585,490 C585,375 500,312 360,312 C260,312 170,350 97,400 Z"/>
<path transform="translate(690,215) scale(0.093545)" d="M97,90 L1150,90 L1150,120 L520,1565 L228,1470 L695,375 L97,375 Z"/>
<path transform="translate(800,215) scale(0.093545)" d="M248,90 L1027,90 L1027,360 L525,360 L525,645 C600,640 680,640 740,655 C950,700 1090,870 1090,1090 C1090,1380 860,1565 580,1565 C420,1565 270,1520 145,1448 L145,1160 C260,1230 380,1295 510,1295 C650,1295 740,1210 740,1090 C740,950 620,878 460,878 C380,878 310,893 248,915 Z"/>
<circle cx="504.8" cy="238.5" r="10.3" fill="none" stroke="#0096d6" stroke-width="7.8"/><circle cx="535.5" cy="271.5" r="10.3" fill="none" stroke="#0096d6" stroke-width="7.8"/><polygon points="536.8,224.3 545.2,224.3 504.0,285.5 495.6,285.5"/>
<circle cx="933.1" cy="238.6" r="10.3" fill="none" stroke="#0096d6" stroke-width="7.8"/><circle cx="963.6" cy="271.7" r="10.3" fill="none" stroke="#0096d6" stroke-width="7.8"/><polygon points="965.2,224.5 973.1,224.5 931.7,286.0 923.6,286.0"/>
</g></svg>
<div class="t" id="title_0" style="left:143.79px;top:123.21px;color:#5e6168;font-weight:bold;letter-spacing:0.000px;-webkit-text-stroke:3.7px #5e6168;transform:scale(0.60274,0.55616)">M</div>
<div class="t" id="title_1" style="left:195.08px;top:126.61px;color:#5e6168;font-weight:bold;letter-spacing:0.000px;-webkit-text-stroke:3.7px #5e6168;transform:scale(0.55965,0.51695)">o</div>
<div class="t" id="title_2" style="left:230.90px;top:125.66px;color:#5e6168;font-weight:bold;letter-spacing:0.000px;-webkit-text-stroke:3.7px #5e6168;transform:scale(0.54815,0.53377)">d</div>
<div class="t" id="title_3" style="left:265.57px;top:126.61px;color:#5e6168;font-weight:bold;letter-spacing:0.000px;-webkit-text-stroke:3.7px #5e6168;transform:scale(0.56538,0.51695)">e</div>
<div class="t" id="title_4" style="left:297.46px;top:126.90px;color:#5e6168;font-weight:bold;letter-spacing:0.000px;-webkit-text-stroke:3.7px #5e6168;transform:scale(0.68824,0.51379)">r</div>
<div class="t" id="title_5" style="left:326.63px;top:126.90px;color:#5e6168;font-weight:bold;letter-spacing:0.000px;-webkit-text-stroke:3.7px #5e6168;transform:scale(0.53462,0.51379)">n</div>
<div class="t" id="title_6" style="left:377.27px;top:123.21px;color:#5e6168;font-weight:bold;letter-spacing:0.000px;-webkit-text-stroke:3.7px #5e6168;transform:scale(0.56667,0.55616)">I</div>
<div class="t" id="title_7" style="left:396.32px;top:123.21px;color:#5e6168;font-weight:bold;letter-spacing:0.000px;-webkit-text-stroke:3.7px #5e6168;transform:scale(0.61905,0.55616)">T</div>
<div class="t" id="title_8" style="left:452.80px;top:125.21px;color:#5e6168;font-weight:bold;letter-spacing:0.000px;-webkit-text-stroke:3.7px #5e6168;transform:scale(0.57143,0.53947)">f</div>
<div class="t" id="title_9" style="left:473.40px;top:126.61px;color:#5e6168;font-weight:bold;letter-spacing:0.000px;-webkit-text-stroke:3.7px #5e6168;transform:scale(0.54912,0.51695)">o</div>
<div class="t" id="title_10" style="left:507.70px;top:126.90px;color:#5e6168;font-weight:bold;letter-spacing:0.000px;-webkit-text-stroke:3.7px #5e6168;transform:scale(0.67941,0.51379)">r</div>
<div class="t" id="title_11" style="left:553.30px;top:123.15px;color:#5e6168;font-weight:bold;letter-spacing:0.000px;-webkit-text-stroke:3.7px #5e6168;transform:scale(0.55211,0.55733)">G</div>
<div class="t" id="title_12" style="left:599.52px;top:125.66px;color:#5e6168;font-weight:bold;letter-spacing:0.000px;-webkit-text-stroke:3.7px #5e6168;transform:scale(0.41667,0.53421)">l</div>
<div class="t" id="title_13" style="left:613.81px;top:126.61px;color:#5e6168;font-weight:bold;letter-spacing:0.000px;-webkit-text-stroke:3.7px #5e6168;transform:scale(0.59298,0.51695)">o</div>
<div class="t" id="title_14" style="left:648.78px;top:125.66px;color:#5e6168;font-weight:bold;letter-spacing:0.000px;-webkit-text-stroke:3.7px #5e6168;transform:scale(0.54444,0.53377)">b</div>
<div class="t" id="title_15" style="left:684.30px;top:126.61px;color:#5e6168;font-weight:bold;letter-spacing:0.000px;-webkit-text-stroke:3.7px #5e6168;transform:scale(0.50351,0.51695)">a</div>
<div class="t" id="title_16" style="left:717.08px;top:125.66px;color:#5e6168;font-weight:bold;letter-spacing:0.000px;-webkit-text-stroke:3.7px #5e6168;transform:scale(0.44444,0.53421)">l</div>
<div class="t" id="title_17" style="left:748.76px;top:123.15px;color:#5e6168;font-weight:bold;letter-spacing:0.000px;-webkit-text-stroke:3.7px #5e6168;transform:scale(0.43750,0.55733)">S</div>
<div class="t" id="title_18" style="left:780.52px;top:126.61px;color:#5e6168;font-weight:bold;letter-spacing:0.000px;-webkit-text-stroke:3.7px #5e6168;transform:scale(0.53962,0.51695)">c</div>
<div class="t" id="title_19" style="left:811.41px;top:126.61px;color:#5e6168;font-weight:bold;letter-spacing:0.000px;-webkit-text-stroke:3.7px #5e6168;transform:scale(0.49474,0.51695)">a</div>
<div class="t" id="title_20" style="left:842.38px;top:125.66px;color:#5e6168;font-weight:bold;letter-spacing:0.000px;-webkit-text-stroke:3.7px #5e6168;transform:scale(0.44444,0.53421)">l</div>
<div class="t" id="title_21" style="left:856.27px;top:126.61px;color:#5e6168;font-weight:bold;letter-spacing:0.000px;-webkit-text-stroke:3.7px #5e6168;transform:scale(0.56538,0.51695)">e</div>
<div class="t" id="h3a_0" style="left:1207.33px;top:212.11px;color:#0096d6;font-weight:bold;letter-spacing:0.000px;-webkit-text-stroke:3.4px #0096d6;transform:scale(0.71471,0.74533)">R</div>
<div class="t" id="h3a_1" style="left:1258.60px;top:212.11px;color:#0096d6;font-weight:bold;letter-spacing:0.000px;-webkit-text-stroke:3.4px #0096d6;transform:scale(0.80000,0.74533)">O</div>
<div class="t" id="h3a_2" style="left:1323.35px;top:212.11px;color:#0096d6;font-weight:bold;letter-spacing:0.000px;-webkit-text-stroke:3.4px #0096d6;transform:scale(0.69091,0.74533)">L</div>
<div class="t" id="h3a_3" style="left:1367.71px;top:212.11px;color:#0096d6;font-weight:bold;letter-spacing:0.000px;-webkit-text-stroke:3.4px #0096d6;transform:scale(0.63898,0.74533)">E</div>
<div class="t" id="h3a_4" style="left:1414.97px;top:212.11px;color:#0096d6;font-weight:bold;letter-spacing:0.000px;-webkit-text-stroke:3.4px #0096d6;transform:scale(0.81379,0.74533)">-</div>
<div class="t" id="h3a_5" style="left:1446.48px;top:212.11px;color:#0096d6;font-weight:bold;letter-spacing:0.000px;-webkit-text-stroke:3.4px #0096d6;transform:scale(0.70312,0.74533)">B</div>
<div class="t" id="h3a_6" style="left:1496.60px;top:212.11px;color:#0096d6;font-weight:bold;letter-spacing:0.000px;-webkit-text-stroke:3.4px #0096d6;transform:scale(0.83611,0.74533)">A</div>
<div class="t" id="h3a_7" style="left:1558.52px;top:212.11px;color:#0096d6;font-weight:bold;letter-spacing:0.000px;-webkit-text-stroke:3.4px #0096d6;transform:scale(0.57778,0.74533)">S</div>
<div class="t" id="h3a_8" style="left:1600.37px;top:212.11px;color:#0096d6;font-weight:bold;letter-spacing:0.000px;-webkit-text-stroke:3.4px #0096d6;transform:scale(0.60508,0.74533)">E</div>
<div class="t" id="h3a_9" style="left:1644.04px;top:212.11px;color:#0096d6;font-weight:bold;letter-spacing:0.000px;-webkit-text-stroke:3.4px #0096d6;transform:scale(0.83231,0.74533)">D</div>
<div class="t" id="h3b_0" style="left:1207.12px;top:291.26px;color:#0096d6;font-weight:bold;letter-spacing:0.000px;-webkit-text-stroke:3.4px #0096d6;transform:scale(0.71500,0.74933)">P</div>
<div class="t" id="h3b_1" style="left:1255.74px;top:291.26px;color:#0096d6;font-weight:bold;letter-spacing:0.000px;-webkit-text-stroke:3.4px #0096d6;transform:scale(0.82877,0.74933)">O</div>
<div class="t" id="h3b_2" style="left:1320.13px;top:291.26px;color:#0096d6;font-weight:bold;letter-spacing:0.000px;-webkit-text-stroke:3.4px #0096d6;transform:scale(0.71471,0.74933)">R</div>
<div class="t" id="h3b_3" style="left:1371.13px;top:291.26px;color:#0096d6;font-weight:bold;letter-spacing:0.000px;-webkit-text-stroke:3.4px #0096d6;transform:scale(0.83492,0.74933)">T</div>
<div class="t" id="h3b_4" style="left:1416.00px;top:291.26px;color:#0096d6;font-weight:bold;letter-spacing:0.000px;-webkit-text-stroke:3.4px #0096d6;transform:scale(0.84722,0.74933)">A</div>
<div class="t" id="h3b_5" style="left:1477.69px;top:291.26px;color:#0096d6;font-weight:bold;letter-spacing:0.000px;-webkit-text-stroke:3.4px #0096d6;transform:scale(0.68182,0.74933)">L</div>
<div class="t" id="h3b_6" style="left:1522.11px;top:291.26px;color:#0096d6;font-weight:bold;letter-spacing:0.000px;-webkit-text-stroke:3.4px #0096d6;transform:scale(0.58889,0.74933)">S</div>
<div class="t" id="h4a_0" style="left:1821.48px;top:212.06px;color:#0096d6;font-weight:bold;letter-spacing:0.000px;-webkit-text-stroke:3.2px #0096d6;transform:scale(0.82308,0.75972)">D</div>
<div class="t" id="h4a_1" style="left:1879.10px;top:212.06px;color:#0096d6;font-weight:bold;letter-spacing:0.000px;-webkit-text-stroke:3.2px #0096d6;transform:scale(0.85000,0.75972)">A</div>
<div class="t" id="h4a_2" style="left:1940.25px;top:212.06px;color:#0096d6;font-weight:bold;letter-spacing:0.000px;-webkit-text-stroke:3.2px #0096d6;transform:scale(0.75000,0.75972)">I</div>
<div class="t" id="h4a_3" style="left:1963.34px;top:212.06px;color:#0096d6;font-weight:bold;letter-spacing:0.000px;-webkit-text-stroke:3.2px #0096d6;transform:scale(0.69273,0.75972)">L</div>
<div class="t" id="h4a_4" style="left:1998.00px;top:212.06px;color:#0096d6;font-weight:bold;letter-spacing:0.000px;-webkit-text-stroke:3.2px #0096d6;transform:scale(0.80000,0.75972)">Y</div>
<div class="t" id="h4b_0" style="left:1780.02px;top:291.14px;color:#0096d6;font-weight:bold;letter-spacing:0.000px;-webkit-text-stroke:3.6px #0096d6;transform:scale(0.58125,0.75867)">S</div>
<div class="t" id="h4b_1" style="left:1822.45px;top:291.14px;color:#0096d6;font-weight:bold;letter-spacing:0.000px;-webkit-text-stroke:3.6px #0096d6;transform:scale(0.63000,0.75867)">E</div>
<div class="t" id="h4b_2" style="left:1867.13px;top:291.14px;color:#0096d6;font-weight:bold;letter-spacing:0.000px;-webkit-text-stroke:3.6px #0096d6;transform:scale(0.71471,0.75867)">R</div>
<div class="t" id="h4b_3" style="left:1916.86px;top:291.14px;color:#0096d6;font-weight:bold;letter-spacing:0.000px;-webkit-text-stroke:3.6px #0096d6;transform:scale(0.78143,0.75867)">V</div>
<div class="t" id="h4b_4" style="left:1971.07px;top:291.14px;color:#0096d6;font-weight:bold;letter-spacing:0.000px;-webkit-text-stroke:3.6px #0096d6;transform:scale(0.76667,0.75867)">I</div>
<div class="t" id="h4b_5" style="left:1993.96px;top:291.14px;color:#0096d6;font-weight:bold;letter-spacing:0.000px;-webkit-text-stroke:3.6px #0096d6;transform:scale(0.71857,0.75867)">C</div>
<div class="t" id="h4b_6" style="left:2050.70px;top:291.14px;color:#0096d6;font-weight:bold;letter-spacing:0.000px;-webkit-text-stroke:3.6px #0096d6;transform:scale(0.62000,0.75867)">E</div>
<div class="t" id="l1a" style="left:196.91px;top:386.80px;color:#4b4e54;font-weight:bold;letter-spacing:18.962px;-webkit-text-stroke:2.0px #4b4e54;transform:scale(0.28142,0.46438)">INCREASE IN</div>
<div class="t" id="l1b" style="left:144.20px;top:433.04px;color:#4b4e54;font-weight:bold;letter-spacing:19.933px;-webkit-text-stroke:2.0px #4b4e54;transform:scale(0.27976,0.46164)">UPGRADE VOLUME</div>
<div class="t" id="l2a" style="left:731.83px;top:386.86px;color:#4b4e54;font-weight:bold;letter-spacing:14.611px;-webkit-text-stroke:2.0px #4b4e54;transform:scale(0.27893,0.46027)">FASTER</div>
<div class="t" id="l2b" style="left:682.00px;top:432.66px;color:#4b4e54;font-weight:bold;letter-spacing:16.094px;-webkit-text-stroke:2.0px #4b4e54;transform:scale(0.28308,0.46712)">PROCESSING</div>
<div class="t" id="l3a" style="left:1205.93px;top:386.86px;color:#4b4e54;font-weight:bold;letter-spacing:22.955px;-webkit-text-stroke:2.0px #4b4e54;transform:scale(0.27893,0.46027)">IMPROVING</div>
<div class="t" id="l3b" style="left:1205.68px;top:433.04px;color:#4b4e54;font-weight:bold;letter-spacing:20.996px;-webkit-text-stroke:2.0px #4b4e54;transform:scale(0.27976,0.46164)">VISIBILITY</div>
<div class="t" id="l4a" style="left:1869.08px;top:386.20px;color:#4b4e54;font-weight:bold;letter-spacing:16.250px;-webkit-text-stroke:2.0px #4b4e54;transform:scale(0.28678,0.47324)">HEALTH</div>
<div class="t" id="l4b" style="left:1832.02px;top:433.04px;color:#4b4e54;font-weight:bold;letter-spacing:20.421px;-webkit-text-stroke:2.0px #4b4e54;transform:scale(0.27976,0.46164)">REPORTING</div>
<div class="t" id="iv" style="left:467.38px;top:682.86px;color:#4b4e54;font-weight:bold;letter-spacing:20.987px;-webkit-text-stroke:2.0px #4b4e54;transform:scale(0.27893,0.46027)">VISIBILITY</div>
<div class="t" id="ia" style="left:1139.92px;top:682.60px;color:#4b4e54;font-weight:bold;letter-spacing:20.650px;-webkit-text-stroke:2.0px #4b4e54;transform:scale(0.28142,0.46438)">AUTOMATION</div>
<div class="t" id="ig" style="left:1819.76px;top:682.60px;color:#4b4e54;font-weight:bold;letter-spacing:16.943px;-webkit-text-stroke:2.0px #4b4e54;transform:scale(0.28142,0.46438)">GOVERNANCE</div>
<div class="t" id="tag" style="left:360.40px;top:879.26px;color:#02b191;font-weight:bold;letter-spacing:0.000px;transform:scale(0.45695,0.47925)">Real-time insights, accelerated workflows, consistent service delivery</div>
<div class="t" id="b1" style="left:1023.72px;top:1068.20px;color:#4b4e54;font-weight:bold;letter-spacing:20.069px;-webkit-text-stroke:2.0px #4b4e54;transform:scale(0.28210,0.47324)">A SECURE, DATA-DRIVEN IT ENVIRONMENT THAT</div>
<div class="t" id="b2_0" style="left:1029.81px;top:1118.49px;color:#f06125;font-weight:bold;letter-spacing:0.000px;-webkit-text-stroke:4.2px #f06125;transform:scale(1.09375,1.39333)">S</div>
<div class="t" id="b2_1" style="left:1111.55px;top:1118.49px;color:#f06125;font-weight:bold;letter-spacing:0.000px;-webkit-text-stroke:4.2px #f06125;transform:scale(1.37429,1.39333)">C</div>
<div class="t" id="b2_2" style="left:1217.20px;top:1118.49px;color:#f06125;font-weight:bold;letter-spacing:0.000px;-webkit-text-stroke:4.2px #f06125;transform:scale(1.59722,1.39333)">A</div>
<div class="t" id="b2_3" style="left:1338.25px;top:1118.49px;color:#f06125;font-weight:bold;letter-spacing:0.000px;-webkit-text-stroke:4.2px #f06125;transform:scale(1.31091,1.39333)">L</div>
<div class="t" id="b2_4" style="left:1425.99px;top:1118.49px;color:#f06125;font-weight:bold;letter-spacing:0.000px;-webkit-text-stroke:4.2px #f06125;transform:scale(1.18167,1.39333)">E</div>
<div class="t" id="b2_5" style="left:1516.89px;top:1118.49px;color:#f06125;font-weight:bold;letter-spacing:0.000px;-webkit-text-stroke:4.2px #f06125;transform:scale(1.10781,1.39333)">S</div>
<div class="t" id="b3_0" style="left:1618.30px;top:1174.52px;color:#f06125;font-weight:bold;letter-spacing:0.000px;-webkit-text-stroke:2.3px #f06125;transform:scale(0.85902,0.76301)">T</div>
<div class="t" id="b3_1" style="left:1670.22px;top:1174.52px;color:#f06125;font-weight:bold;letter-spacing:0.000px;-webkit-text-stroke:2.3px #f06125;transform:scale(0.82778,0.76301)">O</div>
<div class="t" id="b3_2" style="left:1759.92px;top:1174.52px;color:#f06125;font-weight:bold;letter-spacing:0.000px;-webkit-text-stroke:2.3px #f06125;transform:scale(0.75857,0.76301)">G</div>
<div class="t" id="b3_3" style="left:1822.28px;top:1174.52px;color:#f06125;font-weight:bold;letter-spacing:0.000px;-webkit-text-stroke:2.3px #f06125;transform:scale(0.72075,0.76301)">L</div>
<div class="t" id="b3_4" style="left:1866.91px;top:1174.52px;color:#f06125;font-weight:bold;letter-spacing:0.000px;-webkit-text-stroke:2.3px #f06125;transform:scale(0.83056,0.76301)">O</div>
<div class="t" id="b3_5" style="left:1933.78px;top:1174.52px;color:#f06125;font-weight:bold;letter-spacing:0.000px;-webkit-text-stroke:2.3px #f06125;transform:scale(0.70317,0.76301)">B</div>
<div class="t" id="b3_6" style="left:1986.23px;top:1174.52px;color:#f06125;font-weight:bold;letter-spacing:0.000px;-webkit-text-stroke:2.3px #f06125;transform:scale(0.86714,0.76301)">A</div>
<div class="t" id="b3_7" style="left:2049.38px;top:1174.52px;color:#f06125;font-weight:bold;letter-spacing:0.000px;-webkit-text-stroke:2.3px #f06125;transform:scale(0.72075,0.76301)">L</div>
<div class="t" id="b4_0" style="left:1024.92px;top:1253.83px;color:#f06125;font-weight:bold;letter-spacing:0.000px;-webkit-text-stroke:2.3px #f06125;transform:scale(0.81250,0.75479)">M</div>
<div class="t" id="b4_1" style="left:1094.64px;top:1253.83px;color:#f06125;font-weight:bold;letter-spacing:0.000px;-webkit-text-stroke:2.3px #f06125;transform:scale(0.84375,0.75479)">I</div>
<div class="t" id="b4_2" style="left:1121.29px;top:1253.83px;color:#f06125;font-weight:bold;letter-spacing:0.000px;-webkit-text-stroke:2.3px #f06125;transform:scale(0.60323,0.75479)">S</div>
<div class="t" id="b4_3" style="left:1165.92px;top:1253.83px;color:#f06125;font-weight:bold;letter-spacing:0.000px;-webkit-text-stroke:2.3px #f06125;transform:scale(0.58871,0.75479)">S</div>
<div class="t" id="b4_4" style="left:1208.88px;top:1253.83px;color:#f06125;font-weight:bold;letter-spacing:0.000px;-webkit-text-stroke:2.3px #f06125;transform:scale(0.83750,0.75479)">I</div>
<div class="t" id="b4_5" style="left:1234.11px;top:1253.83px;color:#f06125;font-weight:bold;letter-spacing:0.000px;-webkit-text-stroke:2.3px #f06125;transform:scale(0.82917,0.75479)">O</div>
<div class="t" id="b4_6" style="left:1299.21px;top:1253.83px;color:#f06125;font-weight:bold;letter-spacing:0.000px;-webkit-text-stroke:2.3px #f06125;transform:scale(0.91475,0.75479)">N</div>
<div class="t" id="b4_7" style="left:1390.90px;top:1253.83px;color:#f06125;font-weight:bold;letter-spacing:0.000px;-webkit-text-stroke:2.3px #f06125;transform:scale(0.84921,0.75479)">D</div>
<div class="t" id="b4_8" style="left:1453.91px;top:1253.83px;color:#f06125;font-weight:bold;letter-spacing:0.000px;-webkit-text-stroke:2.3px #f06125;transform:scale(0.64828,0.75479)">E</div>
<div class="t" id="b4_9" style="left:1500.59px;top:1253.83px;color:#f06125;font-weight:bold;letter-spacing:0.000px;-webkit-text-stroke:2.3px #f06125;transform:scale(0.81806,0.75479)">M</div>
<div class="t" id="b4_10" style="left:1569.33px;top:1253.83px;color:#f06125;font-weight:bold;letter-spacing:0.000px;-webkit-text-stroke:2.3px #f06125;transform:scale(0.87000,0.75479)">A</div>
<div class="t" id="b4_11" style="left:1632.57px;top:1253.83px;color:#f06125;font-weight:bold;letter-spacing:0.000px;-webkit-text-stroke:2.3px #f06125;transform:scale(0.90492,0.75479)">N</div>
<div class="t" id="b4_12" style="left:1699.72px;top:1253.83px;color:#f06125;font-weight:bold;letter-spacing:0.000px;-webkit-text-stroke:2.3px #f06125;transform:scale(0.84603,0.75479)">D</div>
<div class="t" id="b4_13" style="left:1763.71px;top:1253.83px;color:#f06125;font-weight:bold;letter-spacing:0.000px;-webkit-text-stroke:2.3px #f06125;transform:scale(0.59355,0.75479)">S</div>
<div class="t" id="copy" style="left:141.74px;top:1442.63px;color:#8f9197;font-weight:normal;letter-spacing:0.000px;transform:scale(0.23170,0.23936)">© SAIC. All rights reserved.</div>
<div class="frame"></div>
</body></html>
